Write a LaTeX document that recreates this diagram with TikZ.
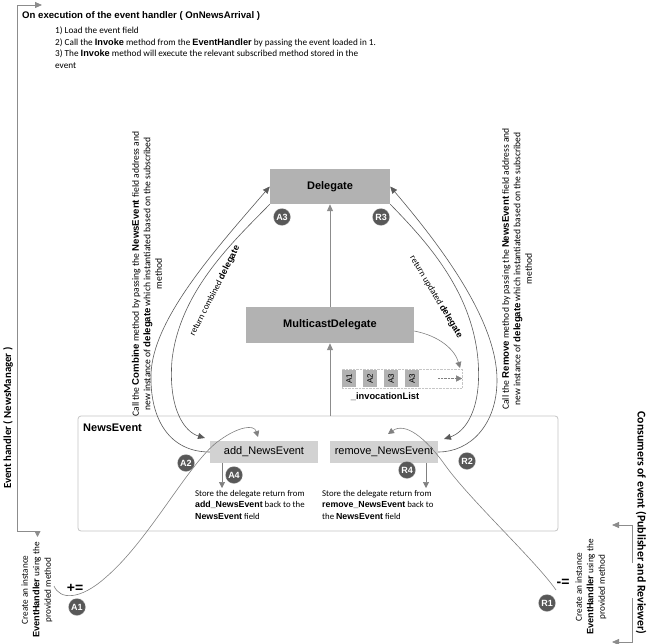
\documentclass[tikz,border=0pt]{standalone}
\usepackage{fontspec}
\setmainfont{Carlito}
\newfontfamily\arial{Liberation Sans}
\usetikzlibrary{arrows.meta}
\definecolor{boxgray}{HTML}{B2B2B2}
\definecolor{lightbox}{HTML}{D2D2D2}
\definecolor{circ}{HTML}{585858}
\definecolor{linegray}{HTML}{8C8C8C}
\definecolor{curvec}{HTML}{5A5A5A}
\definecolor{framec}{HTML}{C4C4C4}
\newcommand{\ab}[1]{{\arial\bfseries #1}}
\begin{document}
\begin{tikzpicture}[x=1pt,y=-1pt,
  tip/.style={-{Triangle[length=7pt,width=6pt]}},
  smalltip/.style={-{Triangle[length=6pt,width=6pt]}},
  bigbox/.style={fill=boxgray, draw=none, inner sep=0, font=\arial\bfseries\fontsize{11}{13}\selectfont},
  methbox/.style={fill=lightbox, draw=none, inner sep=0, minimum width=108pt, minimum height=22pt, font=\arial\fontsize{11}{13}\selectfont},
  badge/.style={circle, fill=circ, draw=gray!55, densely dotted, line width=0.6pt, minimum size=17pt, inner sep=0, text=white, font=\arial\bfseries\fontsize{9}{9}\selectfont},
  cell/.style={fill=boxgray, draw=none, minimum width=14pt, minimum height=17pt, inner sep=0},
  bracket/.style={draw=linegray, line width=0.8pt},
  curve/.style={draw=curvec, line width=0.6pt},
  upline/.style={draw=linegray, line width=1pt},
  small/.style={font=\fontsize{8.8}{11.5}\selectfont, inner sep=0},
  longtxt/.style={font=\fontsize{9.6}{11.5}\selectfont, inner sep=0},
]
\useasboundingbox (0,0) rectangle (650,644);

% top text
\node[anchor=west, inner sep=0, font=\arial\bfseries\fontsize{9.6}{11}\selectfont] (title) at (22,16) {On execution of the event handler ( OnNewsArrival )};
\node[anchor=north west, align=left, inner sep=0, font=\fontsize{9.2}{11.5}\selectfont] (steps) at (55,27) {1) Load the event field\\2) Call the \ab{Invoke} method from the \ab{EventHandler} by passing the event loaded in 1.\\3) The \ab{Invoke} method will execute the relevant subscribed method stored in the\\event};

% left bracket
\coordinate (ltop) at (17,5);
\coordinate (ltopr) at (42,5);
\coordinate (lbot) at (17,531);
\coordinate (lbotr) at (37.5,537);
\draw[bracket, tip] (lbot) -- (ltop) -- (ltopr);
\draw[bracket, smalltip] (lbot) -| (lbotr);
\node[rotate=90, inner sep=0, font=\bfseries\fontsize{10.8}{12}\selectfont] (eh) at (8,418) {Event handler ( NewsManager )};

% right bracket
\coordinate (r1a) at (632,563);
\coordinate (r1b) at (632,525);
\coordinate (r1c) at (612,525);
\coordinate (r2a) at (632,598);
\coordinate (r2b) at (632,642);
\coordinate (r2c) at (612,642);
\draw[bracket, tip] (r1a) -- (r1b) -- (r1c);
\draw[bracket, tip] (r2a) -- (r2b) -- (r2c);
\node[rotate=-90, inner sep=0, font=\bfseries\fontsize{11.8}{12}\selectfont] (cons) at (641,523) {Consumers of event (Publisher and Reviewer)};

% main boxes
\node[bigbox, minimum width=120pt, minimum height=35pt] (dlg) at (330,186.5) {Delegate};
\node[bigbox, minimum width=168pt, minimum height=36pt] (mcd) at (330,325) {MulticastDelegate};
\draw[draw=framec, line width=0.8pt, rounded corners=3pt] (78,416) rectangle (558,531);
\coordinate (netop) at (330,416);
\node[anchor=west, inner sep=0, font=\arial\bfseries\fontsize{11}{13}\selectfont] (nelabel) at (83,428) {NewsEvent};
\node[methbox] (add) at (264,452) {add\_NewsEvent};
\node[methbox] (rem) at (384,452) {remove\_NewsEvent};

\draw[upline, tip] (mcd.north) -- (dlg.south);
\draw[upline, tip] (netop) -- (mcd.south);

% invocation list
\node[draw=gray!45, densely dotted, minimum width=120pt, minimum height=19pt, inner sep=0] (ilist) at (402,378.5) {};
\node[cell] (c1) at (349,378.5) {\rotatebox{90}{\arial\fontsize{8}{9}\selectfont A1}};
\node[cell] (c2) at (370,378.5) {\rotatebox{90}{\arial\fontsize{8}{9}\selectfont A2}};
\node[cell] (c3) at (391,378.5) {\rotatebox{90}{\arial\fontsize{8}{9}\selectfont A3}};
\node[cell] (c4) at (412,378.5) {\rotatebox{90}{\arial\fontsize{8}{9}\selectfont A3}};
\coordinate (iarrs) at (438,378.5);
\draw[densely dotted, draw=gray, smalltip] (iarrs) -- (ilist.east);
\node[inner sep=0, font=\arial\bfseries\fontsize{9.3}{11}\selectfont] (ilabel) at (385,397) {\_invocationList};
\coordinate (iend) at (460,368);
\draw[curve, draw=gray, smalltip] ([yshift=-6pt]mcd.east) .. controls (440,336) and (455,350) .. (iend);

% badges
\node[badge] (a3) at (282,217) {A3};
\node[badge] (r3) at (381,217) {R3};
\node[badge] (a2) at (186,463) {A2};
\node[badge] (r2) at (467,461) {R2};
\node[badge] (a4) at (234,475) {A4};
\node[badge] (r4) at (407,470) {R4};
\node[badge] (a1) at (77,607) {A1};
\node[badge] (r1) at (547,603) {R1};

% store arrows
\coordinate (addout) at (222,463);
\coordinate (addend) at (222,488);
\coordinate (remout) at (426,463);
\coordinate (remend) at (426,488);
\draw[curve, draw=gray, smalltip] (addout) -- (addend);
\draw[curve, draw=gray, smalltip] (remout) -- (remend);
\node[anchor=north west, align=left, small] (addtxt) at (195,490) {Store the delegate return from\\\ab{add\_NewsEvent} back to the\\\ab{NewsEvent} field};
\node[anchor=north west, align=left, small] (remtxt) at (322,490) {Store the delegate return from\\\ab{remove\_NewsEvent} back to\\the \ab{NewsEvent} field};

% left curves
\coordinate (addin) at (205,438);
\draw[curve, tip] (add.west) .. controls (170,452) and (150,420) .. (151,375) .. controls (152,320) and (215,250) .. (dlg.west);
\draw[curve, tip] (dlg.south west) .. controls (235,240) and (180,290) .. (172,360) .. controls (168,410) and (185,432) .. (addin);
% right curves
\coordinate (remin) at (444,439);
\draw[curve, tip] (rem.east) .. controls (470,452) and (497,425) .. (497,380) .. controls (497,320) and (440,245) .. (dlg.east);
\draw[curve, tip] (dlg.south east) .. controls (425,240) and (472,290) .. (478,360) .. controls (482,410) and (465,432) .. (remin);

\node[rotate=63, inner sep=0, font=\fontsize{9}{10}\selectfont] (retc) at (215,291) {return combined \ab{delegate}};
\node[rotate=-59, inner sep=0, font=\fontsize{9}{10}\selectfont] (retu) at (436,297) {return updated \ab{delegate}};

% long rotated texts
\node[rotate=90, align=center, longtxt] (combtxt) at (147,274) {Call the \ab{Combine} method by passing the \ab{NewsEvent} field address and\\new instance of \ab{delegate} which instantiated based on the subscribed\\method};
\node[rotate=90, align=center, longtxt] (remtxt2) at (517,269) {Call the \ab{Remove} method by passing the \ab{NewsEvent} field address and\\new instance of \ab{delegate} which instantiated based on the subscribed\\method};

% subscription
\coordinate (s1) at (54,586);
\coordinate (s1end) at (258,437);
\draw[curve, draw=gray, smalltip] (s1) .. controls (60,600) and (80,600) .. (105,578) .. controls (150,540) and (190,460) .. (220,440) .. controls (238,427) and (254,424) .. (s1end);
\coordinate (u1) at (556,590);
\coordinate (u1end) at (388,434);
\draw[curve, draw=gray, smalltip] (u1) .. controls (535,560) and (470,500) .. (445,465) .. controls (425,437) and (405,422) .. (u1end);

\node[inner sep=0, font=\arial\bfseries\fontsize{14}{14}\selectfont] (pluseq) at (75,588) {+=};
\node[inner sep=0, font=\arial\bfseries\fontsize{14}{14}\selectfont] (minuseq) at (563,583) {-=};

\node[rotate=90, align=center, inner sep=0, font=\fontsize{9.2}{11.5}\selectfont] (cl) at (37,590) {Create an instance\\\ab{EventHandler} using the\\provided method};
\node[rotate=90, align=center, inner sep=0, font=\fontsize{9.2}{11.5}\selectfont] (cr) at (591,587) {Create an instance\\\ab{EventHandler} using the\\provided method};
\end{tikzpicture}
\end{document}
